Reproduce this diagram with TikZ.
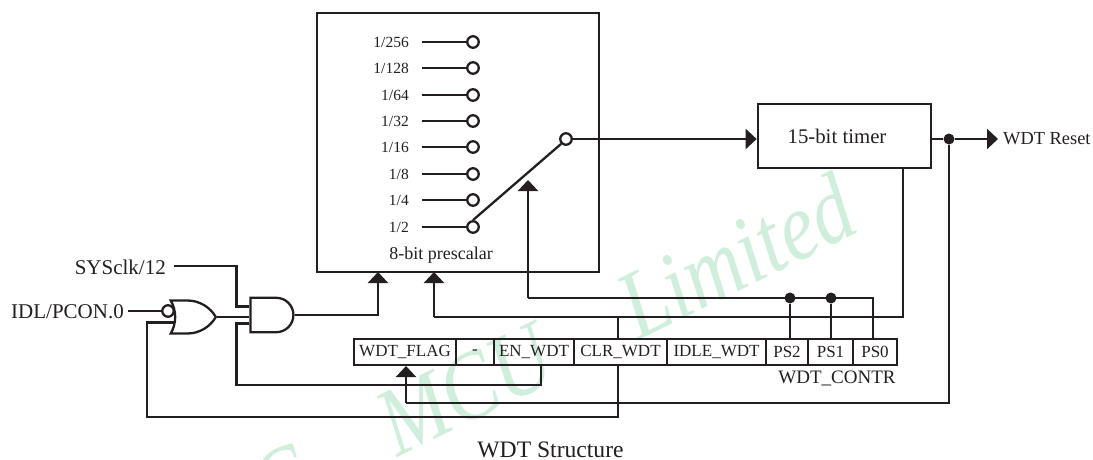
\documentclass[tikz,border=0pt]{standalone}
\usepackage{fontspec}
\usepackage{graphicx}
\setmainfont{Liberation Serif}
\usetikzlibrary{arrows.meta,shapes.gates.logic.US}
\definecolor{inkline}{HTML}{231F20}
\definecolor{markgreen}{HTML}{CFEEDB}
\newcommand{\fs}[1]{\fontsize{#1}{#1}\selectfont}
\tikzset{
  wire/.style={line width=2.3pt, draw=inkline, line join=miter},
  tipped/.style={wire, -{Triangle[length=11pt,width=20pt]}},
  tap/.style={circle, draw=inkline, line width=2.3pt, fill=white, inner sep=0pt, minimum size=11.5pt},
  junct/.style={circle, fill=inkline, inner sep=0pt, minimum size=11pt},
  block/.style={draw=inkline, line width=2.7pt, inner sep=0pt},
  cell/.style={draw=inkline, line width=2.3pt, inner sep=0pt, minimum height=26pt, font=\fs{17}, text=inkline},
  ratio/.style={anchor=east, inner sep=0pt, inner xsep=13pt, font=\fs{15.5}, text=inkline},
  caption/.style={inner sep=0pt, text=inkline},
  gate/.style={draw=inkline, line width=2.3pt, inner sep=0pt},
  markword/.style={text=markgreen, font=\fs{97}\itshape, rotate=26, inner sep=0pt, anchor=base west}
}
\begin{document}
\begin{tikzpicture}[x=1pt, y=-1pt]
\useasboundingbox (0,0) rectangle (1093,460);
\clip (0,0) rectangle (1093,460);

% Watermark (behind everything, the first word is cut by the page)
\node[markword] (markb) at (397,458) {\scalebox{0.84}[1]{MCU\hspace{104pt}Limited}};
\node[markword] (marka) at (270,524) {\scalebox{0.84}[1]{C}};

% Prescaler block with its divider taps
\node[block, minimum width=282pt, minimum height=259pt] (pre) at (458,142.5) {};
\node[caption, font=\fs{18}] (prelab) at (441,255) {8-bit prescalar};
\node[ratio] (r1) at (422,42) {1/256};
\node[ratio] (r2) at (422,68) {1/128};
\node[ratio] (r3) at (422,95) {1/64};
\node[ratio] (r4) at (422,121) {1/32};
\node[ratio] (r5) at (422,147) {1/16};
\node[ratio] (r6) at (422,174) {1/8};
\node[ratio] (r7) at (422,200) {1/4};
\node[ratio] (r8) at (422,227) {1/2};
\node[tap] (t1) at (473,42) {};
\node[tap] (t2) at (473,68) {};
\node[tap] (t3) at (473,95) {};
\node[tap] (t4) at (473,121) {};
\node[tap] (t5) at (473,147) {};
\node[tap] (t6) at (473,174) {};
\node[tap] (t7) at (473,200) {};
\node[tap] (t8) at (473,227) {};
\draw[wire] (r1.east) -- (t1);
\draw[wire] (r2.east) -- (t2);
\draw[wire] (r3.east) -- (t3);
\draw[wire] (r4.east) -- (t4);
\draw[wire] (r5.east) -- (t5);
\draw[wire] (r6.east) -- (t6);
\draw[wire] (r7.east) -- (t7);
\draw[wire] (r8.east) -- (t8);

% Selector arm and timer
\node[tap] (sw) at (566,139) {};
\draw[wire] (t8.north) -- (sw.south west);
\node[block, minimum width=173pt, minimum height=64pt, font=\fs{20.8}, text=inkline] (timer) at (844.5,136) {\hspace*{-15pt}15-bit timer};
\draw[tipped] (sw) -- (sw -| timer.west);
\node[junct] (jout) at (949,139) {};
\node[caption, anchor=west, inner xsep=5pt, font=\fs{18.4}] (rstlab) at (998,139) {WDT Reset};
\draw[wire] (timer.east |- jout) -- (jout);
\draw[tipped] (jout) -- (rstlab.west);

% Control register
\node[cell, minimum width=102pt] (flag) at (405,352) {WDT\_FLAG};
\node[cell, minimum width=38pt] (none) at (475,352) {-};
\node[cell, minimum width=80pt] (en) at (534,352) {EN\_WDT};
\node[cell, minimum width=93pt] (clr) at (620.5,352) {CLR\_WDT};
\node[cell, minimum width=99pt] (idle) at (716.5,352) {IDLE\_WDT};
\node[cell, minimum width=42pt] (ps2) at (787,352) {PS2};
\node[cell, minimum width=45pt] (ps1) at (830.5,352) {PS1};
\node[cell, minimum width=44pt] (ps0) at (875,352) {PS0};
\node[caption, font=\fs{19}] (contr) at (837,378) {WDT\_CONTR};

% Gates and their inputs
\node[gate, and gate US, logic gate inputs=nnn, minimum width=38pt, minimum height=32pt, anchor=center] (andg) at (270.5,315) {};
\node[gate, or gate US, logic gate inputs=nn, minimum width=34pt, minimum height=33pt, anchor=center] (org) at (190,317) {};
\node[caption, anchor=east, font=\fs{21}] (sysclk) at (166,267) {SYSclk/12};
\node[caption, anchor=east, font=\fs{21}] (idl) at (124,312) {IDL/PCON.0};
\node[tap] (inv) at (168,311) {};
\coordinate (clkfrom) at (174,266);
\coordinate (idlfrom) at (128,311);
\coordinate (clkbend) at (236.5,266);
\draw[wire] (clkfrom) -- (clkbend) |- (andg.input 1);
\draw[wire] (idlfrom) -- (inv);
\draw[wire] (org.output) -- (org.output -| andg.input 2);
\coordinate (prea) at (378,272);
\draw[tipped] (andg.output) -| (prea);

% Enable and clear feedback
\coordinate (enbend) at (236.5,385);
\coordinate (enpin) at (541,365);
\draw[wire] (andg.input 3) -| (enbend) -| (enpin);
\coordinate (clrbend) at (147,417);
\coordinate (clrlow) at (618,365);
\coordinate (clrtop) at (618,339);
\draw[wire] (org.input 2) -| (clrbend) -| (clrlow);

% Timer overflow back to the flag and the prescaler
\coordinate (flagbend) at (406,403);
\coordinate (flagpin) at (406,366);
\draw[wire] (jout) |- (flagbend);
\draw[tipped] (flagbend) -- (flagpin);
\coordinate (timlow) at (903,168);
\coordinate (busa) at (434,317);
\coordinate (preb) at (434,272);
\draw[wire] (timlow) |- (busa);
\draw[tipped] (busa) -- (preb);
\draw[wire] (clrtop) -- (clrtop |- busa);

% Scale select lines to the arm
\coordinate (busb) at (528,298);
\coordinate (armtip) at (528,180);
\coordinate (ps0top) at (873,339);
\node[junct] (jb2) at (790,298) {};
\node[junct] (jb1) at (831,298) {};
\draw[wire] (ps0top) |- (busb);
\draw[tipped] (busb) -- (armtip);
\draw[wire] (jb2) -- (jb2 |- ps2.north);
\draw[wire] (jb1) -- (jb1 |- ps1.north);

\node[caption, font=\fs{23.6}] (title) at (550.5,450) {WDT Structure};
\end{tikzpicture}
\end{document}
